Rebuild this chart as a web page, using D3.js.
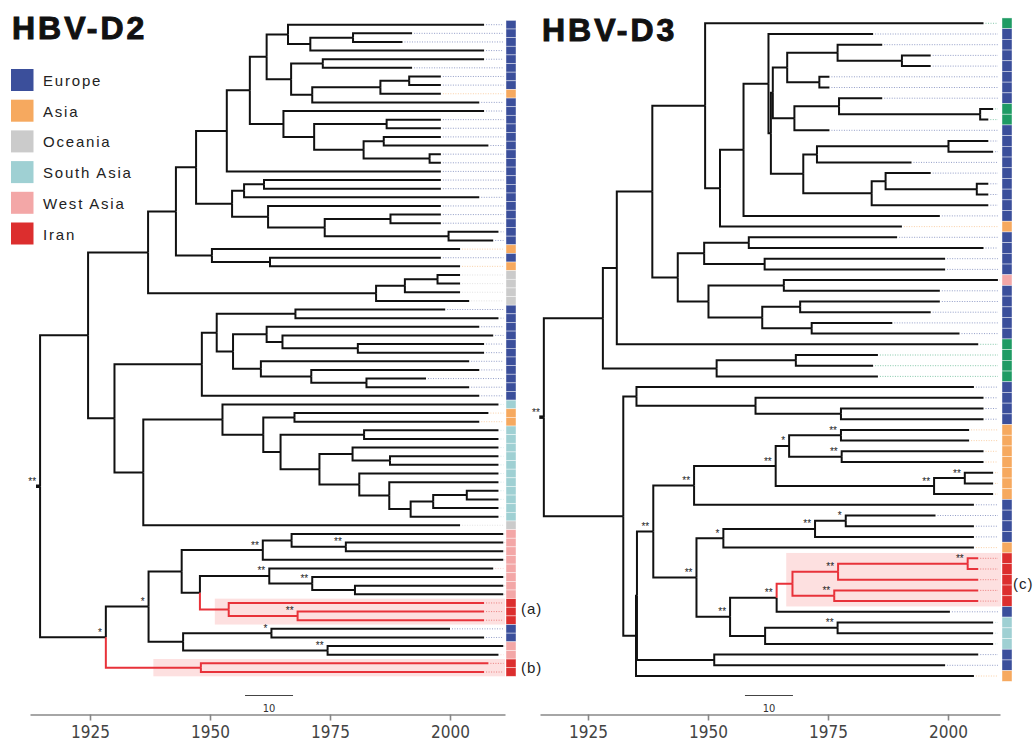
<!DOCTYPE html>
<html>
<head>
<meta charset="utf-8">
<script src="https://cdn.jsdelivr.net/npm/d3@7"></script>
<style>
  body { margin: 0; background: #fff; }
  svg { display: block; font-family: "Liberation Sans", Arial, sans-serif; }
</style>
</head>
<body>
<svg id="chart" width="1035" height="740"></svg>
<script>
// region codes, names and colours
const regionCodes  = ["E", "A", "O", "S", "W", "I", "G"];
const regionNames  = ["Europe", "Asia", "Oceania", "South Asia", "West Asia", "Iran", "Other"];
const regionColors = ["#3b4f9b", "#f6a95f", "#cbcbcb", "#9fd0d3", "#f3a7a7", "#dc2e2e", "#1f9b64"];
const legendCodes  = ["E", "A", "O", "S", "W", "I"];
const yearTicks    = [1925, 1950, 1975, 2000];

// trees: internal node = [year, support, childA, childB], tip = [year, region]
const d2Tree =
[1914.6, "**",
  [1924.6, "",
    [1937.1, "",
      [1942.9, "",
        [1947.1, "",
          [1953.5, "",
            [1958.3, "",
              [1961.8, "",
                [1966.25, "", [2007.1, "E"], [1970.9, "", [1979.8, "", [1992.1, "E"], [1990.1, "E"]], [2007.1, "E"]]],
                [1966.9, "", [1973.5, "", [2007.1, "E"], [1992.1, "E"]], [1971.3, "", [1985.5, "", [1991.5, "", [1998.1, "E"], [1998.1, "E"]], [1998.1, "A"]], [2006.1, "E"]]]],
              [1965.3, "", [2007.1, "E"], [1971.7, "", [1986.8, "", [1998.1, "E"], [1998.1, "E"]], [1982.0, "", [1986.2, "", [1998.1, "E"], [2008.0, "E"]], [1995.75, "", [1998.1, "E"], [1998.1, "E"]]]]]],
            [1998.1, "E"]],
          [1954.6, "", [1957.1, "", [1961.25, "", [1998.1, "E"], [1998.1, "E"]], [2006.1, "E"]], [1962.1, "", [1998.1, "E"], [1973.9, "", [1987.6, "", [1998.1, "E"], [1998.1, "E"]], [1999.7, "", [2010.1, "E"], [2009.0, "E"]]]]]],
        [1950.4, "", [2002.1, "A"], [1962.5, "", [1998.1, "E"], [2002.1, "A"]]]],
      [1984.6, "", [1990.6, "", [1997.4, "", [2002.1, "O"], [2002.1, "O"]], [2002.1, "O"]], [2004.0, "O"]]],
    [1930.1, "",
      [1948.3, "",
        [1951.4, "", [1967.8, "", [1999.0, "E"], [2010.1, "E"]],
          [1954.8, "", [1961.8, "", [2006.1, "E"], [1965.1, "", [2009.0, "E"], [1980.8, "", [2007.1, "E"], [2007.1, "E"]]]],
            [1960.6, "", [2004.0, "E"], [1971.1, "", [2006.1, "E"], [1982.6, "", [1995.0, "E"], [2004.0, "E"]]]]]],
        [2006.1, "E"]],
      [1936.1, "",
        [1952.6, "", [2010.1, "S"],
          [1961.1, "", [1967.6, "", [2008.0, "A"], [2006.1, "A"]],
            [1964.7, "", [1982.1, "", [2010.1, "S"], [2010.1, "S"]],
              [1972.8, "", [1979.7, "", [2010.1, "S"], [1987.5, "", [2010.1, "S"], [2010.1, "S"]]],
                [1981.1, "", [2010.1, "S"], [1987.35, "", [2010.1, "S"], [1991.8, "", [1996.5, "", [2003.5, "", [2010.1, "S"], [2010.1, "S"]], [2010.1, "S"]], [2010.1, "S"]]]]]]]],
        [2002.1, "O"]]]],
  [1928.3, "*",
    [1937.2, "*",
      [1944.1, "",
        [1961.0, "**", [1967.0, "", [2011.1, "W"], [1978.3, "**", [2011.1, "W"], [2011.1, "W"]]], [2011.1, "W"]],
        [1947.9, "", [1962.35, "**", [2009.0, "W"], [1971.3, "**", [2011.1, "W"], [1980.2, "", [2011.1, "W"], [2011.1, "W"]]]],
          [1953.9, "", [2007.1, "I"], [1968.25, "**", [2007.1, "I"], [2007.1, "I"]]]]],
      [1944.4, "", [1962.8, "*", [2000.0, "E"], [2007.1, "E"]], [1974.5, "**", [2011.1, "W"], [2010.1, "W"]]]],
    [1948.1, "", [2008.0, "I"], [2007.1, "I"]]]];

const d3Tree =
[1915.8, "**",
  [1928.1, "",
    [1931.0, "",
      [1938.4, "",
        [1949.4, "", [2007.4, "G"],
          [1952.5, "",
            [1957.4, "",
              [1962.6, "", [1984.4, "E"],
                [1963.1, "",
                  [1963.5, "",
                    [1966.5, "", [1977.0, "", [1986.3, "E"], [1990.4, "", [1996.4, "E"], [1996.4, "E"]]], [1973.2, "", [1975.3, "E"], [1975.3, "E"]]],
                    [1968.0, "", [1977.3, "", [1986.3, "E"], [2006.7, "", [2009.4, "G"], [2008.4, "G"]]], [1975.3, "E"]]],
                  [1969.85, "", [1972.7, "", [2000.1, "", [2008.4, "E"], [2009.4, "E"]], [1992.4, "E"]],
                    [1984.1, "", [1987.0, "", [1996.4, "E"], [2006.0, "", [2008.4, "E"], [2008.4, "E"]]], [2008.4, "E"]]]]],
              [1998.3, "E"]],
            [1990.4, "A"]]],
        [1943.7, "",
          [1949.2, "", [1958.5, "", [1989.4, "E"], [2007.4, "E"]], [1961.8, "", [1999.4, "E"], [1999.4, "E"]]],
          [1950.1, "", [1965.8, "", [2010.4, "W"], [1998.3, "E"]], [1961.3, "", [1969.2, "", [1998.3, "E"], [1996.4, "E"]], [1971.6, "", [1988.4, "E"], [2002.4, "E"]]]]]],
      [2006.3, "G"]],
    [1951.8, "", [1968.3, "", [1985.4, "G"], [1984.4, "G"]], [1985.4, "G"]]],
  [1932.35, "",
    [1935.1, "", [2005.4, "E"], [1959.9, "", [2007.4, "E"], [1977.7, "", [2007.4, "E"], [2007.4, "E"]]]],
    [1935.0, "",
      [1935.2, "",
        [1938.6, "**",
          [1947.1, "**",
            [1964.1, "**",
              [1966.9, "*", [1977.7, "**", [2004.4, "A"], [2004.4, "A"]], [1977.85, "**", [2007.4, "A"], [2007.4, "A"]]],
              [1997.1, "**", [2003.5, "**", [2009.4, "A"], [2009.4, "A"]], [2009.4, "A"]]],
            [2005.4, "E"]],
          [1947.6, "**",
            [1953.2, "*", [1972.3, "**", [1978.7, "*", [1997.4, "E"], [2005.4, "E"]], [2005.4, "E"]], [2005.4, "A"]],
            [1954.6, "**",
              [1964.3, "**", [1967.6, "", [1977.1, "**", [2004.1, "**", [2006.3, "I"], [2006.3, "I"]], [2006.3, "I"]], [1976.3, "**", [2006.3, "I"], [2006.3, "I"]]], [2000.4, "E"]],
              [1961.9, "", [1977.0, "**", [2009.4, "S"], [2009.4, "S"]], [2009.4, "S"]]]]],
        [1951.3, "", [2006.3, "E"], [1999.4, "E"]]],
      [2005.4, "A"]]]];

// per panel extras
const d2RootStart = 1913.75;
const d3RootStart = 1914.85;
const d2ShadeStart = [1951.0, 1938.2];
const d3ShadeStart = [1966.3];
const d2CladeLabels = ["(a)", "(b)"];
const d3CladeLabels = ["(c)"];
const scaleBarYears = 10;

const svg = d3.select("#chart");
const colorOf = code => regionColors[regionCodes.indexOf(code)];
const RED = "#e8323a";
const NARROW = '"Liberation Sans Narrow", "DejaVu Sans Condensed", sans-serif';

function drawPanel(cfg) {
    const g = svg.append("g");
    const x = d3.scaleLinear().domain(cfg.xDomain).range(cfg.xRange);

    // hierarchy from the nested arrays
    const root = d3.hierarchy(cfg.tree, d => d.length > 2 ? d.slice(2) : null);
    const leaves = root.leaves();
    const y = d3.scaleLinear().domain([0, leaves.length - 1]).range(cfg.tipY);
    const step = y(1) - y(0);
    leaves.forEach((l, i) => l.py = y(i));
    root.eachAfter(n => {
        n.t = n.data[0];
        if (n.children) {
            n.py = d3.mean(n.children, c => c.py);
            n.red = n.children.every(c => c.red);
        } else {
            n.red = n.data[1] === "I";
        }
    });

    // pink shading behind the Iranian clades, top to bottom
    const cladeRoots = root.descendants()
        .filter(n => n.red && n.parent && !n.parent.red)
        .sort((a, b) => a.py - b.py);
    cladeRoots.forEach((n, i) => {
        const ys = n.leaves().map(l => l.py);
        g.append("rect")
            .attr("class", "shade")
            .attr("x", x(cfg.shadeStart[i]))
            .attr("y", d3.min(ys) - step / 2)
            .attr("width", cfg.shadeEnd - x(cfg.shadeStart[i]))
            .attr("height", d3.max(ys) - d3.min(ys) + step)
            .attr("fill", "#fde0e0");
        g.append("text")
            .attr("class", "clade-label")
            .attr("x", cfg.labelX)
            .attr("y", n.py + 5)
            .attr("font-size", 15)
            .attr("letter-spacing", 1)
            .attr("fill", "#222")
            .text(cfg.cladeLabels[i]);
    });

    // dotted leaders from tips to the colour strip
    g.selectAll(".lead").data(leaves).join("line")
        .attr("class", "lead")
        .attr("x1", d => x(d.t) + 2).attr("x2", cfg.dotEnd)
        .attr("y1", d => d.py).attr("y2", d => d.py)
        .attr("stroke", d => colorOf(d.data[1]))
        .attr("stroke-opacity", 0.55)
        .attr("stroke-width", 1)
        .attr("stroke-dasharray", "1,1.5");

    // branches, black first then red on top
    const links = root.links();
    const linkPath = l => `M${x(l.source.t)},${l.source.py}V${l.target.py}H${x(l.target.t)}`;
    g.selectAll(".br").data(links.filter(l => !l.target.red)).join("path")
        .attr("class", "br")
        .attr("d", linkPath).attr("fill", "none")
        .attr("stroke", "#111").attr("stroke-width", 2);
    g.selectAll(".brr").data(links.filter(l => l.target.red)).join("path")
        .attr("class", "brr")
        .attr("d", linkPath).attr("fill", "none")
        .attr("stroke", RED).attr("stroke-width", 2);

    // root stub
    g.append("line")
        .attr("x1", x(cfg.rootStart)).attr("x2", x(root.t))
        .attr("y1", root.py).attr("y2", root.py)
        .attr("stroke", "#111").attr("stroke-width", 3.5);

    // support asterisks
    g.selectAll(".sup").data(root.descendants().filter(n => n.children && n.data[1])).join("text")
        .attr("class", "sup")
        .attr("x", d => x(d.t) - 4)
        .attr("y", d => d.py - 1.5)
        .attr("text-anchor", "end")
        .attr("font-size", 10)
        .attr("fill", "#222")
        .text(d => d.data[1]);

    // colour strip
    g.selectAll(".cell").data(leaves).join("rect")
        .attr("class", "cell")
        .attr("x", cfg.stripX).attr("width", 10)
        .attr("y", d => d.py - step / 2).attr("height", step)
        .attr("fill", d => colorOf(d.data[1]))
        .attr("stroke", "#fff").attr("stroke-opacity", 0.6).attr("stroke-width", 0.7);

    // scale bar
    g.append("line")
        .attr("x1", x(cfg.barStart)).attr("x2", x(cfg.barStart + scaleBarYears))
        .attr("y1", 695.5).attr("y2", 695.5)
        .attr("stroke", "#444").attr("stroke-width", 1);
    g.append("text")
        .attr("x", (x(cfg.barStart) + x(cfg.barStart + scaleBarYears)) / 2)
        .attr("y", 712)
        .attr("text-anchor", "middle")
        .attr("font-family", NARROW)
        .attr("font-size", 11)
        .attr("fill", "#333")
        .text(scaleBarYears);

    // time axis
    const ax = g.append("g")
        .attr("transform", "translate(0,714.5)")
        .call(d3.axisBottom(x).tickValues(yearTicks).tickSize(6).tickSizeOuter(0).tickFormat(d3.format("d")));
    ax.select(".domain").attr("stroke", "#888").attr("stroke-width", 1.6);
    ax.selectAll(".tick line").attr("stroke", "#888").attr("stroke-width", 1.6);
    ax.selectAll(".tick text")
        .attr("y", 23).attr("dy", 0)
        .attr("font-family", NARROW)
        .attr("font-size", 17)
        .attr("fill", "#444");

    // title
    g.append("text")
        .attr("x", cfg.titleX).attr("y", cfg.titleY)
        .attr("font-size", 32).attr("font-weight", "bold")
        .attr("letter-spacing", 3)
        .attr("fill", "#111").attr("stroke", "#111").attr("stroke-width", 1)
        .text(cfg.title);
}

drawPanel({
    tree: d2Tree, rootStart: d2RootStart,
    xDomain: [1912.5, 2011.4583], xRange: [30, 505],
    tipY: [24.7, 672],
    stripX: 506, dotEnd: 503.5, shadeEnd: 505,
    shadeStart: d2ShadeStart, cladeLabels: d2CladeLabels, labelX: 521,
    barStart: 1957.3,
    title: "HBV-D2", titleX: 12, titleY: 39
});

drawPanel({
    tree: d3Tree, rootStart: d3RootStart,
    xDomain: [1915, 2010.8333], xRange: [540, 1000],
    tipY: [23.3, 676],
    stripX: 1002, dotEnd: 998, shadeEnd: 1001,
    shadeStart: d3ShadeStart, cladeLabels: d3CladeLabels, labelX: 1013,
    barStart: 1957.7,
    title: "HBV-D3", titleX: 542, titleY: 41
});

// legend (left panel)
const legend = svg.append("g");
legendCodes.forEach((code, i) => {
    const ly = 69 + i * 30.7;
    legend.append("rect")
        .attr("x", 11).attr("y", ly).attr("width", 22.5).attr("height", 22)
        .attr("fill", colorOf(code));
    legend.append("text")
        .attr("x", 43).attr("y", ly + 17)
        .attr("font-size", 15).attr("letter-spacing", 1.8)
        .attr("fill", "#222")
        .text(regionNames[regionCodes.indexOf(code)]);
});
</script>
</body>
</html>
